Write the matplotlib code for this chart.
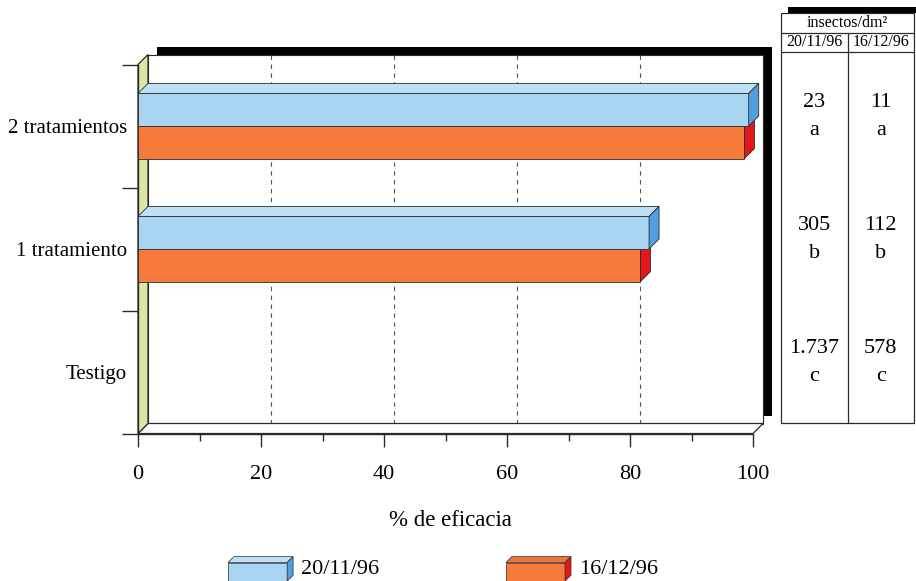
import matplotlib.pyplot as plt
from matplotlib.patches import Polygon, Rectangle
from matplotlib.legend_handler import HandlerBase

plt.rcParams['font.family'] = ['Liberation Serif', 'DejaVu Serif']

# datos
categorias = ['Testigo', '1 tratamiento', '2 tratamientos']
fechas = ['20/11/96', '16/12/96']
eficacia_nov = [0.0, 83.1, 99.3]
eficacia_dic = [0.0, 81.7, 98.6]
insectos_nov = ['1.737', '305', '23']
insectos_dic = ['578', '112', '11']
letras = ['c', 'b', 'a']
ticks_x = [0, 20, 40, 60, 80, 100]
ticks_x_menores = [10, 30, 50, 70, 90]

# colores: frente, tapa, lateral
AZUL = ('#a9d4f2', '#bde0f7', '#529fe0')
NARANJA = ('#f67b3b', '#ef7536', '#e2171c')
PARED = '#dde6a4'
LINEA = '#2b2b2b'

W, H = 916, 581
fig = plt.figure(figsize=(W / 100, H / 100), dpi=100)


def ejes_px(x0, y0, x1, y1):
    return fig.add_axes([x0 / W, 1 - y1 / H, (x1 - x0) / W, (y1 - y0) / H])


# escala: 6.15 px por punto de %, 123 px entre categorias
PX_X, PX_Y = 6.15, 123
X0, Y0 = 138, 372
ax = ejes_px(100, 20, 790, 460)
ax.set_xlim((100 - X0) / PX_X, (790 - X0) / PX_X)
ax.set_ylim((Y0 - 460) / PX_Y, (Y0 - 20) / PX_Y)
ax.patch.set_visible(False)

# profundidad de la perspectiva
DX, DY = 10 / PX_X, 10 / PX_Y
SX, SY = 9 / PX_X, 8 / PX_Y
BH = 0.265
y_min, y_max = -0.5, len(categorias) - 0.5

# sombra negra, pared del fondo, suelo y pared izquierda
ax.add_patch(Rectangle((DX + SX, y_min + DY + SY), 100, y_max - y_min,
                       fc='black', ec='none', zorder=1))
ax.add_patch(Rectangle((DX, y_min + DY), 100, y_max - y_min,
                       fc='white', ec=LINEA, lw=0.8, zorder=1.2))
ax.vlines([v + DX for v in ticks_x[1:-1]], y_min + DY, y_max + DY,
          colors='#555555', linestyles=(0, (4, 4)), lw=0.8, zorder=1.3)
ax.add_patch(Polygon([(0, y_min), (100, y_min), (100 + DX, y_min + DY), (DX, y_min + DY)],
                     fc='white', ec=LINEA, lw=0.9, zorder=1.4))
ax.add_patch(Polygon([(0, y_min), (0, y_max), (DX, y_max + DY), (DX, y_min + DY)],
                     fc=PARED, ec=LINEA, lw=0.9, zorder=1.5))


def barra3d(valor, y0, colores, z):
    if valor <= 0:
        return
    frente, tapa, lado = colores
    kw = dict(ec=LINEA, lw=0.6, zorder=z)
    ax.add_patch(Rectangle((0, y0), valor, BH, fc=frente, **kw))
    ax.add_patch(Polygon([(0, y0 + BH), (valor, y0 + BH),
                          (valor + DX, y0 + BH + DY), (DX, y0 + BH + DY)], fc=tapa, **kw))
    ax.add_patch(Polygon([(valor, y0), (valor + DX, y0 + DY),
                          (valor + DX, y0 + BH + DY), (valor, y0 + BH)], fc=lado, **kw))


for i in range(len(categorias)):
    barra3d(eficacia_dic[i], i - BH, NARANJA, 3 + i)
    barra3d(eficacia_nov[i], i, AZUL, 3.5 + i)

# ejes
for lado in ('top', 'right'):
    ax.spines[lado].set_visible(False)
ax.spines['left'].set_position(('data', 0))
ax.spines['left'].set_bounds(y_min, y_max)
ax.spines['bottom'].set_position(('data', y_min))
ax.spines['bottom'].set_bounds(0, 100)
for lado in ('left', 'bottom'):
    ax.spines[lado].set_color(LINEA)
    ax.spines[lado].set_linewidth(1.0)

ax.set_xticks(ticks_x)
ax.set_xticks(ticks_x_menores, minor=True)
ax.tick_params(axis='x', which='major', length=9.5, width=1.0, color=LINEA,
               pad=13, labelsize=16)
ax.tick_params(axis='x', which='minor', length=5, width=1.0, color=LINEA)
ax.set_yticks([y_min + k for k in range(len(categorias) + 1)], labels=[])
ax.set_yticks(range(len(categorias)), labels=categorias, minor=True)
ax.tick_params(axis='y', which='major', length=11.5, width=1.0, color=LINEA)
ax.tick_params(axis='y', which='minor', length=0, pad=8, labelsize=15)

ax.text((450 - 100) / 690, (460 - 521) / 440, '% de eficacia', transform=ax.transAxes,
        ha='center', va='center', fontsize=16.5)

# tabla de insectos/dm2 (misma escala vertical que el grafico)
at = ejes_px(770, 0, 916, 460)
at.set_ylim((Y0 - 460) / PX_Y, Y0 / PX_Y)
at.set_xlim((770 - 781) / 66.5, (916 - 781) / 66.5)
at.axis('off')
T, R1, R2, B = (Y0 - 13) / PX_Y, (Y0 - 33) / PX_Y, (Y0 - 52) / PX_Y, (Y0 - 423) / PX_Y
at.add_patch(Rectangle((0.11, T), 2.2, 6 / PX_Y, fc='black', ec='none', zorder=1))
at.add_patch(Rectangle((0, B), 2, T - B, fc='white', ec=LINEA, lw=0.9, zorder=2))
at.hlines([R1, R2], 0, 2, colors=LINEA, lw=0.9, zorder=3)
at.vlines(1, B, R1, colors=LINEA, lw=0.9, zorder=3)
at.text(1, (T + R1) / 2, 'insectos/dm²', ha='center', va='center', fontsize=11.5, zorder=4)
for j, f in enumerate(fechas):
    at.text(j + 0.5, (R1 + R2) / 2, f, ha='center', va='center', fontsize=11.5, zorder=4)
for i in range(len(categorias)):
    for j, col in enumerate((insectos_nov, insectos_dic)):
        at.text(j + 0.5, i + 0.19, col[i], ha='center', va='center', fontsize=16, zorder=4)
        at.text(j + 0.5, i - 0.04, letras[i], ha='center', va='center', fontsize=16, zorder=4)


# leyenda con cajas en perspectiva
class Caja:
    def __init__(self, colores):
        self.colores = colores


class ManejadorCaja(HandlerBase):
    def create_artists(self, legend, orig_handle, xdescent, ydescent,
                       width, height, fontsize, trans):
        frente, tapa, lado = orig_handle.colores
        x, y, d = -xdescent, -ydescent - 3, 4.3
        w, h = width, height + 3
        kw = dict(ec=LINEA, lw=0.5, transform=trans)
        return [
            Rectangle((x, y), w - d, h - d, fc=frente, **kw),
            Polygon([(x, y + h - d), (x + w - d, y + h - d), (x + w, y + h), (x + d, y + h)],
                    fc=tapa, **kw),
            Polygon([(x + w - d, y), (x + w, y + d), (x + w, y + h), (x + w - d, y + h - d)],
                    fc=lado, **kw),
        ]


fig.legend([Caja(AZUL), Caja(NARANJA)], fechas, handler_map={Caja: ManejadorCaja()},
           ncol=2, loc='center', bbox_to_anchor=(443 / W, 1 - 568 / H), frameon=False,
           fontsize=16, handlelength=2.93, handleheight=1.04, handletextpad=0.36,
           columnspacing=5.7, borderpad=0)

fig.savefig('out.png', dpi=100)
